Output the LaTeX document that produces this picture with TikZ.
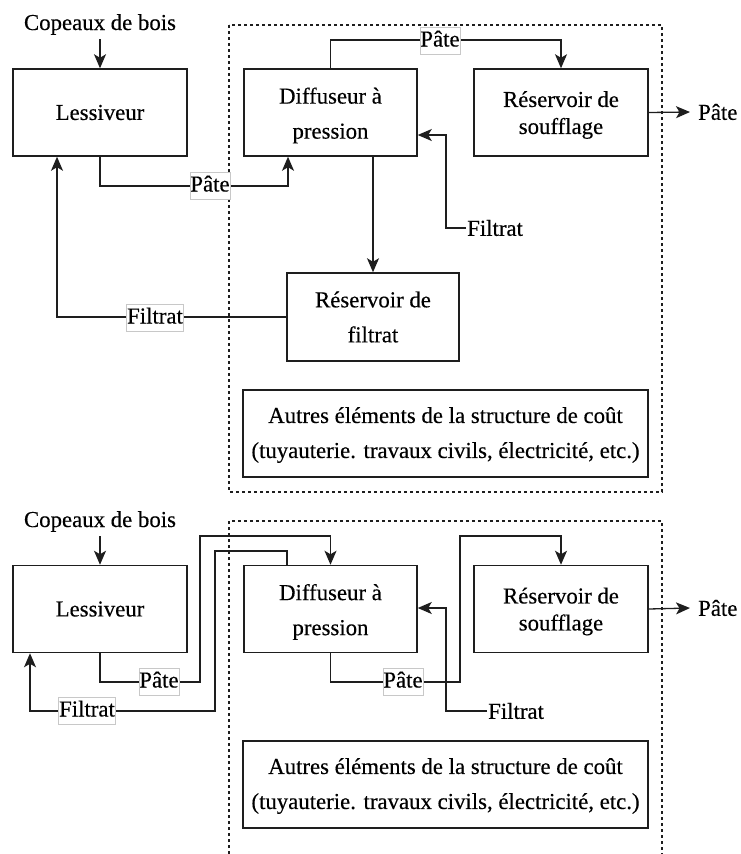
\documentclass[tikz,border=0pt]{standalone}
\usepackage{fontspec}
\setmainfont{Liberation Serif}[FakeBold=0.35]
\usetikzlibrary{arrows.meta}
\definecolor{ink}{RGB}{30,30,30}
\definecolor{lblframe}{RGB}{200,200,200}
\tikzset{
  base/.style={font=\fontsize{22.8}{35}\selectfont, text=black},
  box/.style={draw=ink, line width=1.5pt, inner sep=0pt,
              minimum width=174pt, minimum height=87pt},
  boxtext/.style={base, align=center, inner sep=0pt},
  conn/.style={draw=ink, line width=1.3pt},
  arr/.style={conn, -{Stealth[length=14pt,width=12pt,inset=3.5pt]}},
  lbl/.style={base, fill=white, draw=lblframe, line width=0.6pt,
              inner xsep=0.5pt, inner ysep=3pt, text height=16pt, text depth=5pt},
  txt/.style={base, inner sep=1pt},
  group/.style={draw=ink, line width=1.1pt, dash pattern=on 3pt off 3pt},
}
\begin{document}
\begin{tikzpicture}[x=1pt,y=-1pt]
\useasboundingbox (0,0) rectangle (741,854);

% ---------------- upper scheme ----------------
\draw[group] (229,25) rectangle (662,492);

\node[txt, anchor=base] (cop1) at (100,30) {Copeaux de bois};

\node[box] (less1) at (100,112.5) {};
\node[boxtext] (less1t) at (less1.center) {Lessiveur};
\node[box, minimum width=173pt] (diff1) at (330.5,112.5) {};
\node[boxtext, yshift=-3pt] (diff1t) at (diff1.center) {Diffuseur à\\pression};
\node[box] (souf1) at (561,112.5) {};
\node[boxtext, font=\fontsize{22.8}{27}\selectfont, yshift=-2.5pt] (souf1t) at (souf1.center)
  {Réservoir de\\soufflage};
\node[box, minimum width=172pt, minimum height=88pt] (filt1) at (373,317) {};
\node[boxtext] (filt1t) at (filt1.center) {Réservoir de\\filtrat};
\node[box, minimum width=405pt] (other1) at (445.5,433.5) {};
\node[boxtext, yshift=-1.5pt] (other1t) at (other1.center)
  {Autres éléments de la structure de coût\\(tuyauterie. travaux civils, électricité, etc.)};

\node[txt, anchor=west] (filin1) at (466,228) {Filtrat};
\node[txt, anchor=west] (out1) at (697,112) {Pâte};

\draw[arr] ([yshift=-3pt]cop1.south) -- (less1.north);
\draw[arr] (less1.south) -- (100,186) -- (288,186) -- ([xshift=-42.5pt]diff1.south);
\draw[arr] (diff1.north) -- (330.5,40) -- (561,40) -- (souf1.north);
\draw[arr] (filin1.west) -- (446,228) -- (446,135) -- ([yshift=-22.5pt]diff1.east);
\draw[arr] ([xshift=42.5pt]diff1.south) -- (filt1.north);
\draw[arr] (filt1.west) -- (57,317) -- ([xshift=-43pt]less1.south);
\draw[arr] (souf1.east) -- ([xshift=-7pt]out1.west);

\node[lbl] (lp1) at (210,186) {Pâte};
\node[lbl] (lp2) at (440,41) {Pâte};
\node[lbl] (lf1) at (155,318) {Filtrat};

% ---------------- lower scheme ----------------
\draw[group] (229,854) -- (229,521) -- (662,521) -- (662,854);

\node[txt, anchor=base] (cop2) at (100,527) {Copeaux de bois};

\node[box] (less2) at (100,609) {};
\node[boxtext] (less2t) at (less2.center) {Lessiveur};
\node[box, minimum width=173pt] (diff2) at (330.5,609) {};
\node[boxtext, yshift=-3pt] (diff2t) at (diff2.center) {Diffuseur à\\pression};
\node[box] (souf2) at (561,609) {};
\node[boxtext, font=\fontsize{22.8}{27}\selectfont, yshift=-2.5pt] (souf2t) at (souf2.center)
  {Réservoir de\\soufflage};
\node[box, minimum width=405pt] (other2) at (445.5,784.5) {};
\node[boxtext, yshift=-1.5pt] (other2t) at (other2.center)
  {Autres éléments de la structure de coût\\(tuyauterie. travaux civils, électricité, etc.)};

\node[txt, anchor=west] (filin2) at (487,711) {Filtrat};
\node[txt, anchor=west] (out2) at (697,608) {Pâte};

\draw[arr] ([yshift=-3pt]cop2.south) -- (less2.north);
\draw[arr] (less2.south) -- (100,682) -- (200,682) -- (200,536) -- (330.5,536) -- (diff2.north);
\draw[arr] ([xshift=-43.5pt]diff2.north) -- (287,551) -- (215,551) -- (215,711) -- (30,711)
  -- ([xshift=-70pt]less2.south);
\draw[arr] (diff2.south) -- (330.5,682) -- (460,682) -- (460,536) -- (561,536) -- (souf2.north);
\draw[arr] (filin2.west) -- (446,711) -- (446,608) -- ([yshift=1pt]diff2.east);
\draw[arr] (souf2.east) -- ([xshift=-7pt]out2.west);

\node[lbl] (lp3) at (159,682) {Pâte};
\node[lbl] (lf2) at (87,711) {Filtrat};
\node[lbl] (lp4) at (403,682) {Pâte};
\end{tikzpicture}
\end{document}
